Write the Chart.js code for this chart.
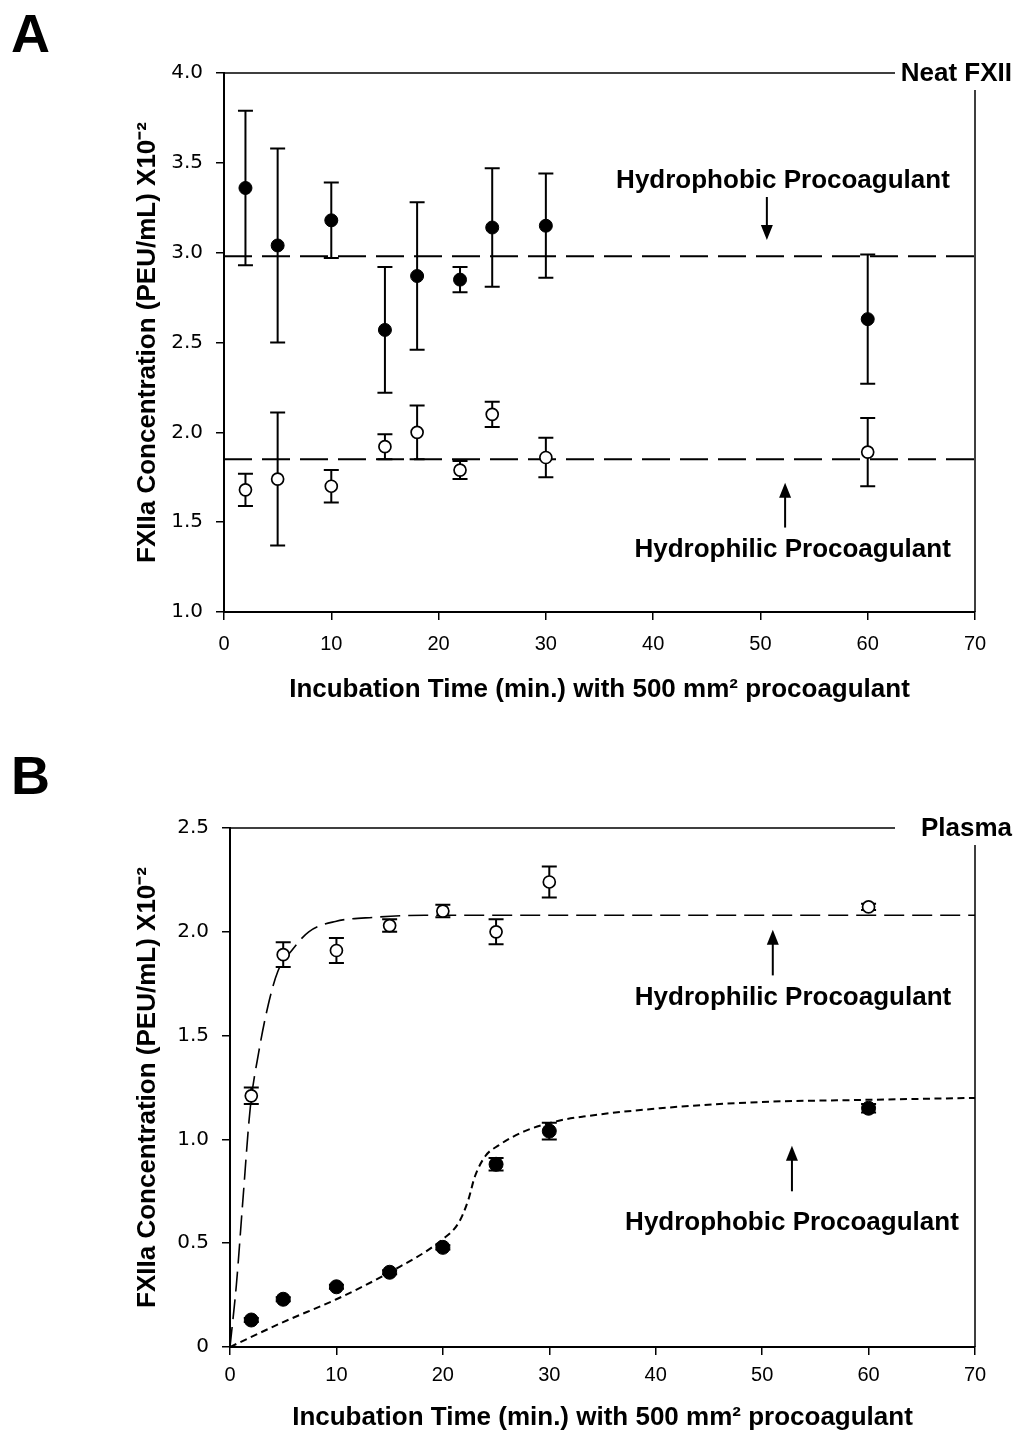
<!DOCTYPE html>
<html>
<head>
<meta charset="utf-8">
<script src="https://cdn.jsdelivr.net/npm/chart.js@4.4.1/dist/chart.umd.min.js"></script>
<style>
  body { margin: 0; background: #fff; }
  .wrap { position: relative; width: 1026px; height: 1433px; }
  canvas { position: absolute; left: 0; }
  #chartA { top: 0; }
  #chartB { top: 715px; }
  .panel { position: absolute; left: 11px; font: bold 54px 'Liberation Sans', Arial, sans-serif; line-height: 54px; }
</style>
</head>
<body>
<div class="wrap">
  <canvas id="chartA" width="1026" height="715" style="width:1026px;height:715px"></canvas>
  <canvas id="chartB" width="1026" height="718" style="width:1026px;height:718px"></canvas>
  <div class="panel" style="top:6px">A</div>
  <div class="panel" style="top:748px">B</div>
</div>
<script>
// Panel A: neat FXII
const timeA = [2, 5, 10, 15, 18, 22, 25, 30, 60];
const phobicA = [3.36, 3.04, 3.18, 2.57, 2.87, 2.85, 3.14, 3.15, 2.63];
const phobicAErr = [0.43, 0.54, 0.21, 0.35, 0.41, 0.07, 0.33, 0.29, 0.36];
const philicA = [1.68, 1.74, 1.70, 1.92, 2.00, 1.79, 2.10, 1.86, 1.89];
const philicAErr = [0.09, 0.37, 0.09, 0.07, 0.15, 0.05, 0.07, 0.11, 0.19];
const meanLineX = [0, 70];
const phobicAMean = 2.98;
const philicAMean = 1.85;

// Panel B: plasma
const timeB = [2, 5, 10, 15, 20, 25, 30, 60];
const philicB = [1.21, 1.89, 1.91, 2.03, 2.10, 2.00, 2.24, 2.12];
const philicBErr = [0.04, 0.06, 0.06, 0.03, 0.03, 0.06, 0.075, 0.015];
const phobicB = [0.13, 0.23, 0.29, 0.36, 0.48, 0.88, 1.04, 1.15];
const phobicBErr = [0.01, 0.01, 0.01, 0.01, 0.01, 0.03, 0.04, 0.02];

// fitted curves (panel B)
const philicFitX = [0, 0.6, 1.2, 1.9, 2.7, 3.6, 4.5, 5.8, 7.4, 9.9, 13.6, 18.3, 25, 70];
const philicFitY = [0, 0.30, 0.70, 1.15, 1.42, 1.65, 1.81, 1.91, 2.00, 2.05, 2.07, 2.08, 2.08, 2.08];
const phobicFitX = [0, 5, 10, 15, 20, 21.5, 22.4, 23, 24, 25.2, 27.7, 30.9, 33.2, 40.4, 49.8, 59.2, 70];
const phobicFitY = [0, 0.12, 0.23, 0.36, 0.52, 0.60, 0.71, 0.82, 0.92, 0.97, 1.04, 1.09, 1.11, 1.15, 1.18, 1.19, 1.20];

const xTicks = [0, 10, 20, 30, 40, 50, 60, 70];

const SANS = "'Liberation Sans', Arial, sans-serif";
const yTitle = 'FXIIa Concentration (PEU/mL) X10\u207B\u00B2';
const xTitle = 'Incubation Time (min.) with 500 mm\u00B2 procoagulant';

const pts = (xs, ys) => xs.map((x, i) => ({ x: x, y: ys[i] }));

// error bars, frame, arrows and labels
function extrasPlugin(extras) {
  return {
    id: 'extras',
    beforeDatasetsDraw(chart) {
      const { ctx, scales: { x, y } } = chart;
      ctx.save();
      ctx.strokeStyle = '#000';
      ctx.lineWidth = 2;
      extras.errorBars.forEach(set => {
        set.y.forEach((v, i) => {
          const px = x.getPixelForValue(set.x[i]);
          const top = y.getPixelForValue(v + set.err[i]);
          const bot = y.getPixelForValue(v - set.err[i]);
          ctx.beginPath();
          ctx.moveTo(px, top); ctx.lineTo(px, bot);
          ctx.moveTo(px - 7.5, top); ctx.lineTo(px + 7.5, top);
          ctx.moveTo(px - 7.5, bot); ctx.lineTo(px + 7.5, bot);
          ctx.stroke();
        });
      });
      ctx.restore();
    },
    afterDraw(chart) {
      const { ctx, chartArea: a, scales: { x, y } } = chart;
      ctx.save();
      // open frame: top and right sides leave a gap for the corner label
      ctx.strokeStyle = '#000';
      ctx.lineWidth = 1.5;
      ctx.beginPath();
      ctx.moveTo(a.left, a.top); ctx.lineTo(a.right - 80, a.top);
      ctx.moveTo(a.right, a.top + 17); ctx.lineTo(a.right, a.bottom);
      ctx.stroke();

      ctx.fillStyle = '#000';
      ctx.font = 'bold 26px ' + SANS;
      ctx.textBaseline = 'middle';
      ctx.textAlign = 'right';
      ctx.fillText(extras.corner, a.right + 37, a.top + 1);

      ctx.textAlign = 'center';
      extras.notes.forEach(n => {
        ctx.fillText(n.text, x.getPixelForValue(n.x), y.getPixelForValue(n.y));
      });

      ctx.lineWidth = 2;
      extras.arrows.forEach(ar => {
        const px = x.getPixelForValue(ar.x);
        const p0 = y.getPixelForValue(ar.from);
        const p1 = y.getPixelForValue(ar.to);
        const dir = p1 > p0 ? 1 : -1;
        ctx.beginPath();
        ctx.moveTo(px, p0); ctx.lineTo(px, p1 - dir * 10);
        ctx.stroke();
        ctx.beginPath();
        ctx.moveTo(px, p1);
        ctx.lineTo(px - 6, p1 - dir * 15);
        ctx.lineTo(px + 6, p1 - dir * 15);
        ctx.closePath();
        ctx.fill();
      });
      ctx.restore();
    }
  };
}

function buildPanel(id, cfg) {
  return new Chart(document.getElementById(id), {
    type: 'scatter',
    data: { datasets: cfg.datasets },
    options: {
      responsive: false,
      animation: false,
      events: [],
      layout: { padding: cfg.padding },
      plugins: { legend: { display: false }, tooltip: { enabled: false } },
      scales: {
        x: {
          type: 'linear',
          min: 0, max: 70,
          afterBuildTicks: s => { s.ticks = xTicks.map(v => ({ value: v })); },
          afterFit: s => { s.height = cfg.xHeight; },
          border: { color: '#000', width: 2 },
          grid: { drawOnChartArea: false, drawTicks: true, tickLength: 8, color: '#000', lineWidth: 1.5 },
          ticks: {
            color: '#000', padding: cfg.xTickPad, maxRotation: 0,
            font: { family: SANS, size: 20 }
          },
          title: {
            display: true, text: xTitle, color: '#000', padding: 0,
            font: { family: SANS, size: 26, weight: 'bold' }
          }
        },
        y: {
          min: cfg.yMin, max: cfg.yMax,
          afterBuildTicks: s => { s.ticks = cfg.yTicks.map(v => ({ value: v })); },
          afterFit: s => { s.width = cfg.yWidth; },
          border: { color: '#000', width: 2 },
          grid: { drawOnChartArea: false, drawTicks: true, tickLength: 8, color: '#000', lineWidth: 1.5 },
          ticks: {
            color: '#000', padding: 13,
            font: { family: "'DejaVu Sans', sans-serif", size: 20 },
            callback: v => (v === 0 ? '0' : v.toFixed(1))
          },
          title: {
            display: true, text: yTitle, color: '#000', padding: 0,
            font: { family: SANS, size: 26, weight: 'bold' }
          }
        }
      }
    },
    plugins: [extrasPlugin(cfg.extras)]
  });
}

const filled = { showLine: false, pointRadius: 6.5, pointBackgroundColor: '#000', pointBorderColor: '#000', pointBorderWidth: 1, order: 0 };
const hollow = { showLine: false, pointRadius: 6, pointBackgroundColor: '#fff', pointBorderColor: '#000', pointBorderWidth: 1.7, order: 0 };

buildPanel('chartA', {
  padding: { left: 132, top: 73, right: 51, bottom: 10 },
  yWidth: 92, xHeight: 93, xTickPad: 12,
  yMin: 1, yMax: 4, yTicks: [1, 1.5, 2, 2.5, 3, 3.5, 4],
  datasets: [
    Object.assign({ data: pts(timeA, phobicA) }, filled),
    Object.assign({ data: pts(timeA, philicA) }, hollow),
    { data: pts(meanLineX, [phobicAMean, phobicAMean]), showLine: true, pointRadius: 0,
      borderColor: '#000', borderWidth: 2, borderDash: [28, 10], order: 2 },
    { data: pts(meanLineX, [philicAMean, philicAMean]), showLine: true, pointRadius: 0,
      borderColor: '#000', borderWidth: 2, borderDash: [28, 10], order: 2 }
  ],
  extras: {
    corner: 'Neat FXII',
    errorBars: [
      { x: timeA, y: phobicA, err: phobicAErr },
      { x: timeA, y: philicA, err: philicAErr }
    ],
    notes: [
      { text: 'Hydrophobic Procoagulant', x: 52.1, y: 3.40 },
      { text: 'Hydrophilic Procoagulant', x: 53.0, y: 1.345 }
    ],
    arrows: [
      { x: 50.6, from: 3.31, to: 3.07 },
      { x: 52.3, from: 1.47, to: 1.72 }
    ]
  }
});

buildPanel('chartB', {
  padding: { left: 132, top: 113, right: 51, bottom: 0 },
  yWidth: 98, xHeight: 86, xTickPad: 8,
  yMin: 0, yMax: 2.5, yTicks: [0, 0.5, 1, 1.5, 2, 2.5],
  datasets: [
    Object.assign({ data: pts(timeB, phobicB) }, filled, { pointRadius: 7 }),
    Object.assign({ data: pts(timeB, philicB) }, hollow),
    { data: pts(philicFitX, philicFitY), showLine: true, pointRadius: 0, cubicInterpolationMode: 'monotone',
      borderColor: '#000', borderWidth: 1.6, borderDash: [20, 8], order: 2 },
    { data: pts(phobicFitX, phobicFitY), showLine: true, pointRadius: 0, cubicInterpolationMode: 'monotone',
      borderColor: '#000', borderWidth: 2, borderDash: [7, 4.5], order: 2 }
  ],
  extras: {
    corner: 'Plasma',
    errorBars: [
      { x: timeB, y: phobicB, err: phobicBErr },
      { x: timeB, y: philicB, err: philicBErr }
    ],
    notes: [
      { text: 'Hydrophilic Procoagulant', x: 52.9, y: 1.68 },
      { text: 'Hydrophobic Procoagulant', x: 52.8, y: 0.60 }
    ],
    arrows: [
      { x: 51.0, from: 1.79, to: 2.01 },
      { x: 52.8, from: 0.75, to: 0.97 }
    ]
  }
});
</script>
</body>
</html>
